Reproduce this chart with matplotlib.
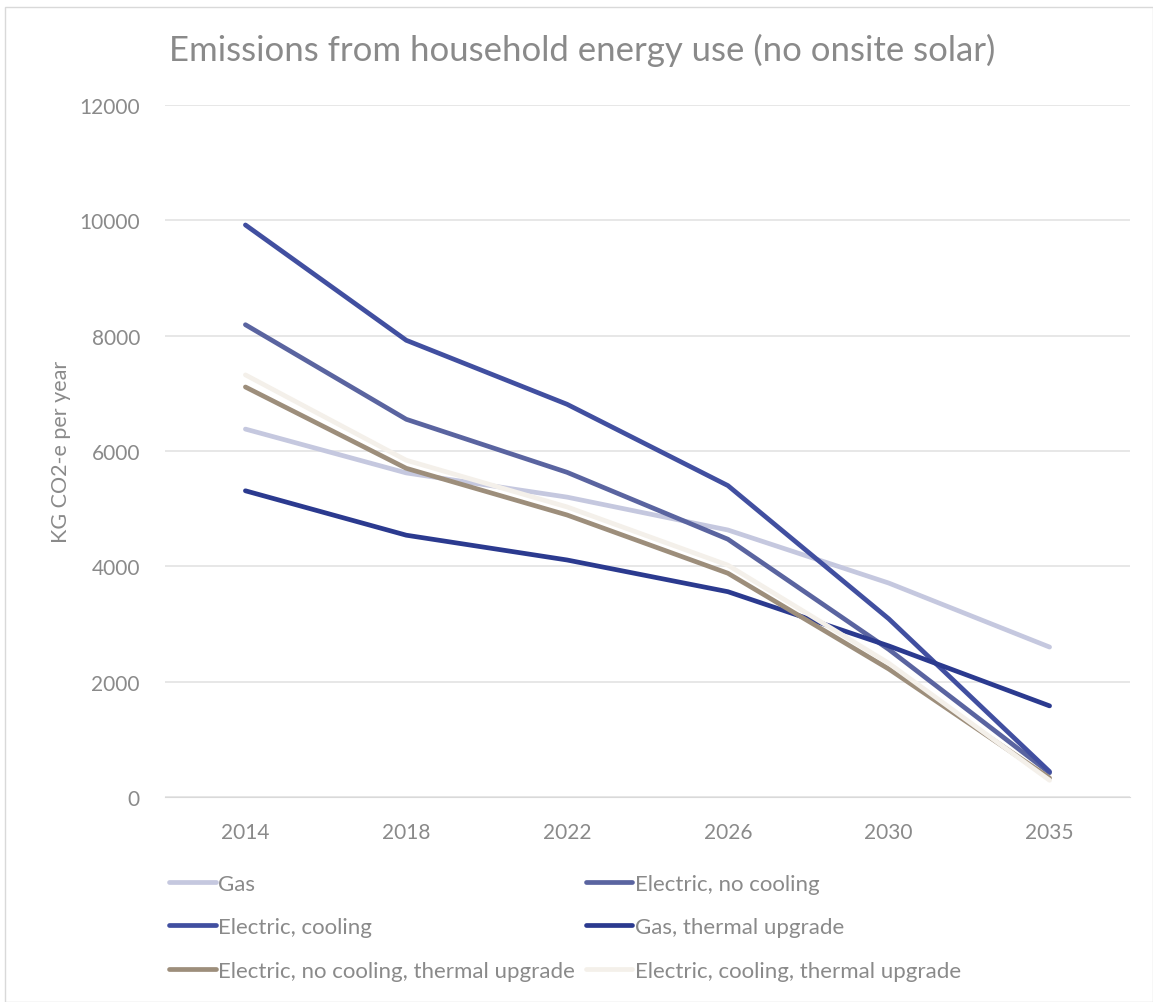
import matplotlib
matplotlib.use("Agg")
from matplotlib import pyplot as plt
from matplotlib.patches import Rectangle

years = ['2014', '2018', '2022', '2026', '2030', '2035']

gas = [6380, 5620, 5200, 4630, 3710, 2600]
elec_no_cool = [8190, 6550, 5630, 4470, 2560, 420]
elec_cool = [9920, 7920, 6810, 5400, 3090, 440]
gas_thermal = [5310, 4540, 4110, 3560, 2620, 1580]
elec_no_cool_thermal = [7110, 5700, 4890, 3880, 2220, 330]
elec_cool_thermal = [7320, 5840, 5030, 4020, 2320, 290]

series = [
    ('Gas', gas, '#c5c8df'),
    ('Electric, no cooling', elec_no_cool, '#5a64a0'),
    ('Electric, cooling', elec_cool, '#414fa0'),
    ('Gas, thermal upgrade', gas_thermal, '#2b3a8f'),
    ('Electric, no cooling, thermal upgrade', elec_no_cool_thermal, '#9d8e7b'),
    ('Electric, cooling, thermal upgrade', elec_cool_thermal, '#f4f0ea'),
]

grey = '#8a8a8a'
plt.rcParams['font.family'] = ['Lato', 'DejaVu Sans']

fig = plt.figure(figsize=(11.53, 10.03), dpi=100)
ax = fig.add_axes([165 / 1153, 1 - 798 / 1003, 965 / 1153, 692 / 1003])

fig.patches.append(Rectangle((5 / 1153, 0), 1 - 5 / 1153, 1 - 8 / 1003, transform=fig.transFigure,
                             fill=False, edgecolor='#d9d9d9', linewidth=1))

x = range(len(years))
handles = []
for name, vals, color in series:
    line, = ax.plot(x, vals, color=color, linewidth=3.4, solid_capstyle='round',
                    solid_joinstyle='round', label=name)
    handles.append(line)

ax.set_xlim(-0.5, len(years) - 0.5)
ax.set_ylim(0, 12000)
ax.set_yticks(range(0, 12001, 2000))
ax.set_xticks(list(x))
ax.set_xticklabels(years)
ax.grid(axis='y', color='#e3e3e3', linewidth=1.2)
ax.set_axisbelow(True)
for side in ['top', 'right', 'left']:
    ax.spines[side].set_visible(False)
ax.spines['bottom'].set_color('#d9d9d9')
ax.tick_params(length=0, colors=grey, labelsize=15)
ax.tick_params(axis='y', pad=18)
ax.tick_params(axis='x', pad=18)

ax.set_ylabel('KG CO2-e per year', color=grey, fontsize=15.5, labelpad=6)
fig.text(0.505, 1 - 50 / 1003, 'Emissions from household energy use (no onsite solar)',
         ha='center', va='center', color=grey, fontsize=25)

order = [0, 2, 4, 1, 3, 5]
fig.legend([handles[i] for i in order], [series[i][0] for i in order],
           ncol=2, loc='upper left', bbox_to_anchor=(160 / 1153, 1 - 866 / 1003),
           frameon=False, fontsize=16, labelcolor=grey, handlelength=2.1,
           handletextpad=0.1, columnspacing=0.5, labelspacing=1.05, borderaxespad=0)

fig.savefig('out.png', dpi=100)
